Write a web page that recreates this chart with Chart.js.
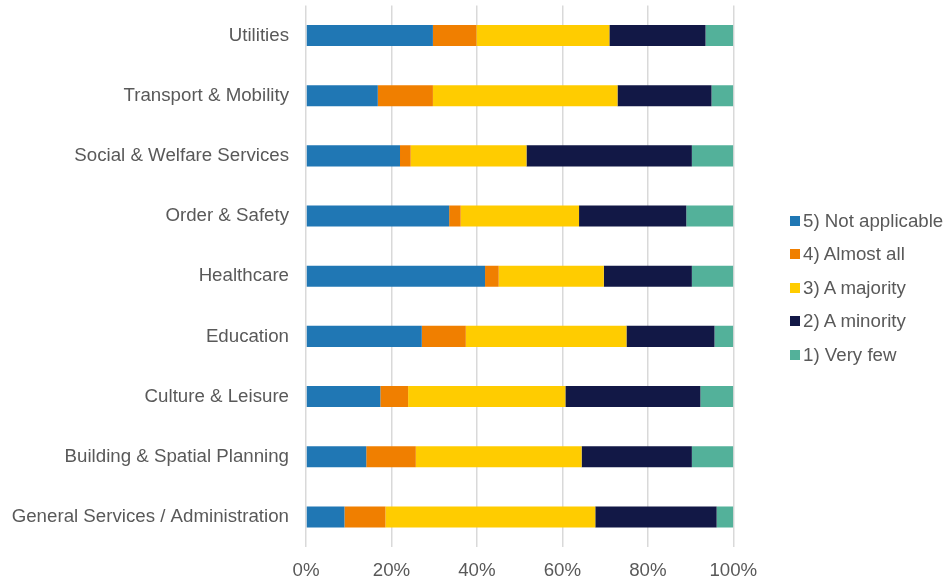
<!DOCTYPE html>
<html>
<head>
<meta charset="utf-8">
<title>Services chart</title>
<script src="https://cdn.jsdelivr.net/npm/chart.js@4/dist/chart.umd.min.js"></script>
<style>
    body {
        margin: 0;
        background: #ffffff;
    }
    .chart-wrap {
        position: relative;
        width: 949px;
        height: 582px;
    }
    canvas {
        position: absolute;
        left: 0;
        top: 0;
    }
    .legend {
        position: absolute;
        left: 790px;
        top: 204px;
        font-family: "Liberation Sans", Arial, sans-serif;
        font-size: 18.7px;
        color: #595959;
    }
    .legend-item {
        display: flex;
        align-items: center;
        height: 33.5px;
    }
    .legend-box {
        width: 10px;
        height: 10px;
        margin-right: 3px;
    }
</style>
</head>
<body>
<div class="chart-wrap">
    <canvas id="servicesChart" width="949" height="582"></canvas>
    <div class="legend" id="legend"></div>
</div>
<script>
// Categories, top to bottom
const categories = [
    'Utilities',
    'Transport & Mobility',
    'Social & Welfare Services',
    'Order & Safety',
    'Healthcare',
    'Education',
    'Culture & Leisure',
    'Building & Spatial Planning',
    'General Services / Administration'
];

// Share of answers per category (%)
const notApplicable = [29.7, 16.8, 22.0, 33.5, 41.9, 27.1, 17.4, 14.1, 9.0];
const almostAll     = [10.2, 12.9, 2.5, 2.7, 3.2, 10.3, 6.5, 11.6, 9.6];
const aMajority     = [31.1, 43.2, 27.1, 27.7, 24.6, 37.6, 36.8, 38.8, 49.1];
const aMinority     = [22.5, 22.0, 38.7, 25.1, 20.6, 20.6, 31.6, 25.8, 28.4];
const veryFew       = [6.5, 5.1, 9.7, 11.0, 9.7, 4.4, 7.7, 9.7, 3.9];

const xTicks = [0, 20, 40, 60, 80, 100];

const textColor = '#595959';
const fontFamily = '"Liberation Sans", Arial, sans-serif';

const data = {
    labels: categories,
    datasets: [
        { label: '5) Not applicable', data: notApplicable, backgroundColor: '#2077b4' },
        { label: '4) Almost all', data: almostAll, backgroundColor: '#f07f00' },
        { label: '3) A majority', data: aMajority, backgroundColor: '#ffcc00' },
        { label: '2) A minority', data: aMinority, backgroundColor: '#121846' },
        { label: '1) Very few', data: veryFew, backgroundColor: '#53b19a' }
    ]
};

const config = {
    type: 'bar',
    data: data,
    options: {
        indexAxis: 'y',
        responsive: false,
        animation: false,
        datasets: {
            bar: {
                categoryPercentage: 1,
                barPercentage: 0.35
            }
        },
        layout: {
            padding: { left: 10, right: 215.7, top: 5.4, bottom: 0 }
        },
        plugins: {
            legend: { display: false },
            tooltip: { enabled: false }
        },
        scales: {
            x: {
                stacked: true,
                min: 0,
                max: 100,
                afterBuildTicks: (axis) => {
                    axis.ticks = xTicks.map(v => ({ value: v }));
                },
                // keep the plot bottom at the same place as the original
                afterFit: (axis) => {
                    axis.height = 35;
                },
                grid: {
                    color: '#d9d9d9',
                    lineWidth: 1.5,
                    drawTicks: false
                },
                border: { display: false },
                ticks: {
                    color: textColor,
                    padding: 12.5,
                    font: { family: fontFamily, size: 18.7 },
                    callback: (v) => v + '%'
                }
            },
            y: {
                stacked: true,
                afterFit: (axis) => {
                    axis.width = 296;
                    axis.paddingTop = 0;
                    axis.paddingBottom = 0;
                },
                grid: { display: false, drawTicks: false },
                border: { display: false },
                ticks: {
                    color: textColor,
                    padding: 17,
                    font: { family: fontFamily, size: 18.7 }
                }
            }
        }
    }
};

const ctx = document.getElementById('servicesChart').getContext('2d');
const chart = new Chart(ctx, config);

// Build the legend from the datasets
const legend = document.getElementById('legend');
chart.data.datasets.forEach(ds => {
    const item = document.createElement('div');
    item.className = 'legend-item';
    const box = document.createElement('span');
    box.className = 'legend-box';
    box.style.background = ds.backgroundColor;
    const text = document.createElement('span');
    text.textContent = ds.label;
    item.appendChild(box);
    item.appendChild(text);
    legend.appendChild(item);
});
</script>
</body>
</html>
